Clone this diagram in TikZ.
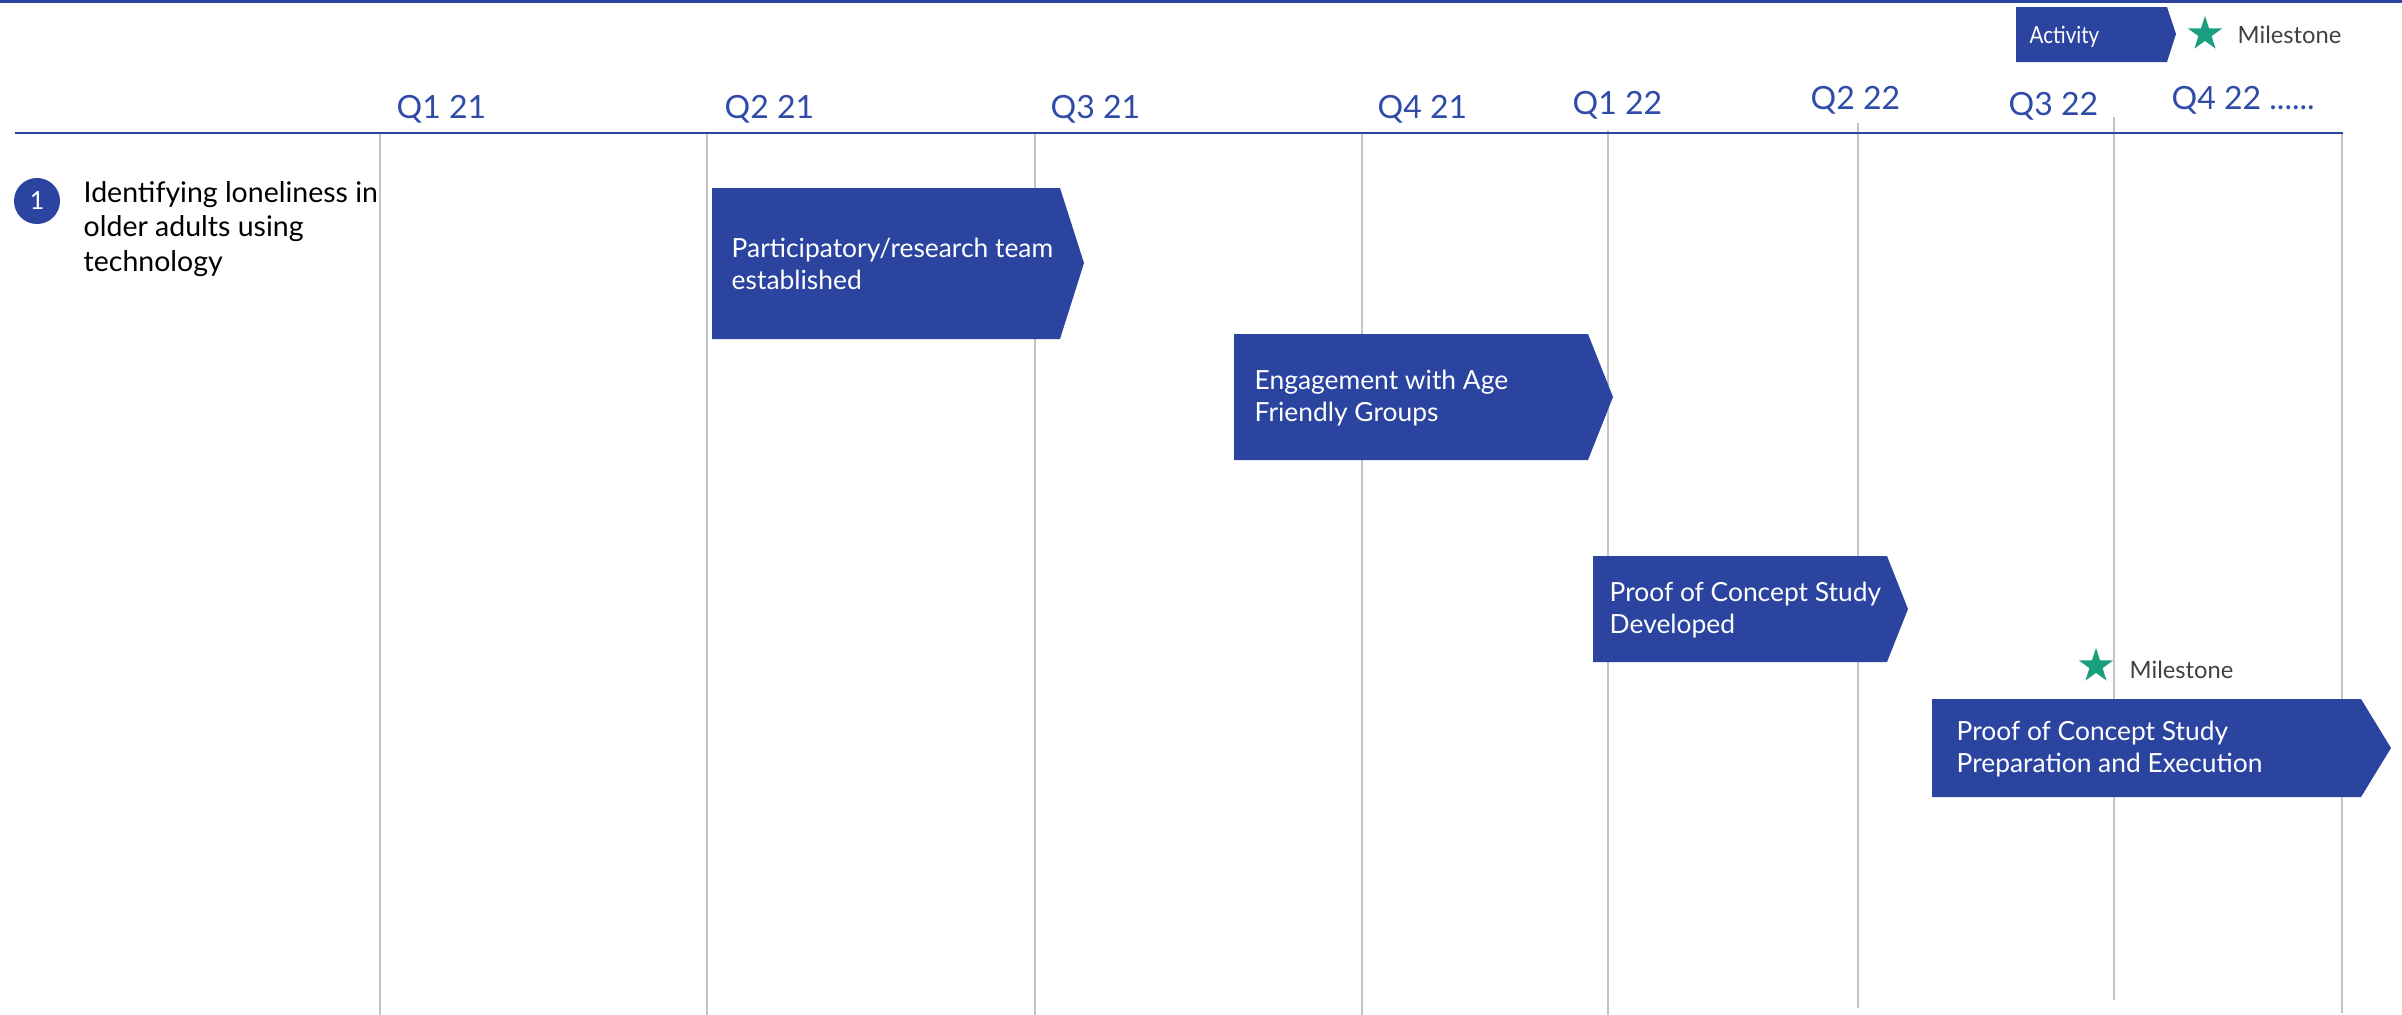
\documentclass[tikz,border=0pt]{standalone}
\usepackage{fontspec}
\setmainfont{Lato}
\usetikzlibrary{shapes.geometric}
\definecolor{actblue}{HTML}{2A44A0}
\definecolor{qblue}{HTML}{2F4AA7}
\definecolor{msgreen}{HTML}{1B9E7D}
\definecolor{gridgray}{HTML}{C4C4C4}
\definecolor{mstext}{HTML}{404040}
\tikzset{
  quarter/.style={anchor=base west, inner sep=0, text=qblue, font=\fontsize{9.1}{11}\selectfont},
  acttext/.style={anchor=west, inner sep=0, text=white, align=left, font=\fontsize{7.5}{9.3}\selectfont},
  msstar/.style={star, star points=5, star point ratio=2.6, fill=msgreen, inner sep=0, minimum size=0.36cm},
  mslabel/.style={anchor=base west, inner sep=0, text=mstext, font=\fontsize{6.75}{9}\selectfont},
  gridline/.style={gridgray, line width=0.45pt},
}
\begin{document}
\begin{tikzpicture}[x=0.01cm,y=-0.01cm]
    \useasboundingbox (0,0) rectangle (2402,1015);
    \fill[actblue] (0,0) rectangle (2402,3);
    % quarter grid
    \draw[gridline] (380,133) -- (380,1015);
    \draw[gridline] (707,133) -- (707,1015);
    \draw[gridline] (1035,133) -- (1035,1015);
    \draw[gridline] (1362,133) -- (1362,1015);
    \draw[gridline] (1608,130) -- (1608,1015);
    \draw[gridline] (1858,123) -- (1858,1008);
    \draw[gridline] (2114,117) -- (2114,1000);
    \draw[gridline] (2342,133) -- (2342,1013);
    \draw[actblue, line width=0.7pt] (15,133) -- (2343,133);
    \node[quarter] (q121) at (396,118) {Q1 21};
    \node[quarter] (q221) at (724,118) {Q2 21};
    \node[quarter] (q321) at (1050,118) {Q3 21};
    \node[quarter] (q421) at (1377,118) {Q4 21};
    \node[quarter] (q122) at (1572,114) {Q1 22};
    \node[quarter] (q222) at (1810,109) {Q2 22};
    \node[quarter] (q322) at (2008,115) {Q3 22};
    \node[quarter] (q422) at (2171,110) {Q4 22 ......};
    % legend
    \fill[actblue] (2016,7) -- (2167,7) -- (2176,34) -- (2167,62) -- (2016,62) -- cycle;
    \node[anchor=base west, inner sep=0, text=white, font=\fontsize{6.7}{8}\selectfont] (legact) at (2029,43) {\scalebox{0.87}[1]{Activity}};
    \node[msstar] (legstar) at (2205,34) {};
    \node[mslabel] (legms) at (2237,44) {Milestone};
    % project
    \node[circle, fill=actblue, minimum size=0.46cm, inner sep=0, text=white, font=\fontsize{7.1}{8}\selectfont] (num) at (37,201) {1};
    \node[anchor=west, inner sep=0, align=left, font=\fontsize{8.1}{9.8}\selectfont] (goal) at (83,229) {Identifying loneliness in\\older adults using\\technology};
    % activities
    \fill[actblue] (712,188) -- (1060,188) -- (1084,263) -- (1060,339) -- (712,339) -- cycle;
    \node[acttext] (team) at (731,264) {Participatory/research team\\established};
    \fill[actblue] (1234,334) -- (1588,334) -- (1613,397) -- (1588,460) -- (1234,460) -- cycle;
    \node[acttext] (engage) at (1254,398) {Engagement with Age\\Friendly Groups};
    \fill[actblue] (1593,556) -- (1887,556) -- (1908,609) -- (1887,662) -- (1593,662) -- cycle;
    \node[acttext] (poc) at (1609,610) {Proof of Concept Study\\Developed};
    \node[msstar] (star) at (2096,666) {};
    \node[mslabel] (ms) at (2129,678) {Milestone};
    \fill[actblue] (1932,699) -- (2361,699) -- (2391,748) -- (2361,797) -- (1932,797) -- cycle;
    \node[acttext] (prep) at (1956,749) {Proof of Concept Study\\Preparation and Execution};
\end{tikzpicture}
\end{document}
